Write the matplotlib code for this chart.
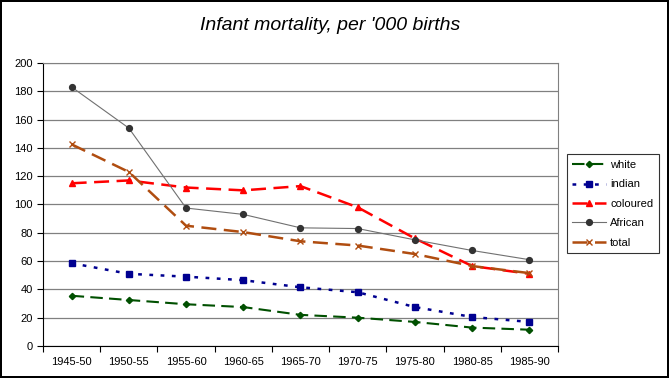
import numpy as np
import matplotlib.pyplot as plt

plt.rcParams['font.family'] = ['Liberation Sans', 'DejaVu Sans']

periods = ['1945-50', '1950-55', '1955-60', '1960-65', '1965-70',
           '1970-75', '1975-80', '1980-85', '1985-90']
white = [35.5, 32.5, 29.5, 27.5, 22, 20, 17, 13, 11.5]
indian = [58.5, 51, 49, 46.5, 41.5, 38, 27.5, 20.5, 17]
coloured = [115, 117, 112, 110, 113, 98, 76, 56.5, 51]
african = [183, 154, 97.5, 93, 83.5, 83, 75, 67.5, 61]
total = [142.5, 123, 85, 80.5, 74, 71, 65, 56.5, 51.5]

fig = plt.figure(figsize=(6.69, 3.78), dpi=100)
fig.patch.set_edgecolor('black')
fig.patch.set_linewidth(1.5)
ax = fig.add_axes([0.0643, 0.0847, 0.7697, 0.7486])

x = np.arange(len(periods))
ax.plot(x, white, color='#005000', ls=(0, (6, 3)), lw=1.5,
        marker='D', ms=3.2, label='white')
ax.plot(x, indian, color='#000090', ls=(0, (1.5, 3)), lw=1.8,
        marker='s', ms=4.2, label='indian')
ax.plot(x, coloured, color='#ff0000', ls=(0, (6, 3)), lw=1.8,
        marker='^', ms=5, label='coloured')
ax.plot(x, african, color='#707070', ls='-', lw=0.8,
        marker='o', ms=4.2, mfc='#333333', mec='#333333', label='African')
ax.plot(x, total, color='#b04d10', ls=(0, (6, 3)), lw=1.8,
        marker='x', ms=4.5, mew=1, label='total')

ax.set_xlim(-0.5, len(periods) - 0.5)
ax.set_ylim(0, 200)
ax.set_yticks(range(0, 201, 20))
ax.set_xticks(x)
ax.set_xticklabels(periods)
ax.set_xticks(np.arange(-0.5, len(periods), 1), minor=True)
ax.tick_params(axis='x', which='major', length=0, labelsize=8, pad=8)
ax.tick_params(axis='x', which='minor', length=4, width=0.8)
ax.tick_params(axis='y', length=4, width=0.8, labelsize=8)
ax.grid(axis='y', color='#808080', lw=0.9)
ax.set_axisbelow(True)
for s in ['top', 'right']:
    ax.spines[s].set_color('#808080')
for s in ['left', 'bottom']:
    ax.spines[s].set_color('black')

fig.text(0.494, 0.932, "Infant mortality, per '000 births",
         ha='center', va='center', fontsize=14, style='italic')

leg = ax.legend(loc='center left', bbox_to_anchor=(1.017, 0.502),
                fontsize=8, frameon=True, fancybox=False,
                handlelength=3.0, borderpad=0.5, labelspacing=0.85,
                handletextpad=0.4, borderaxespad=0)
leg.get_frame().set_edgecolor('black')
leg.get_frame().set_linewidth(0.8)

fig.savefig('out.png', dpi=100)
